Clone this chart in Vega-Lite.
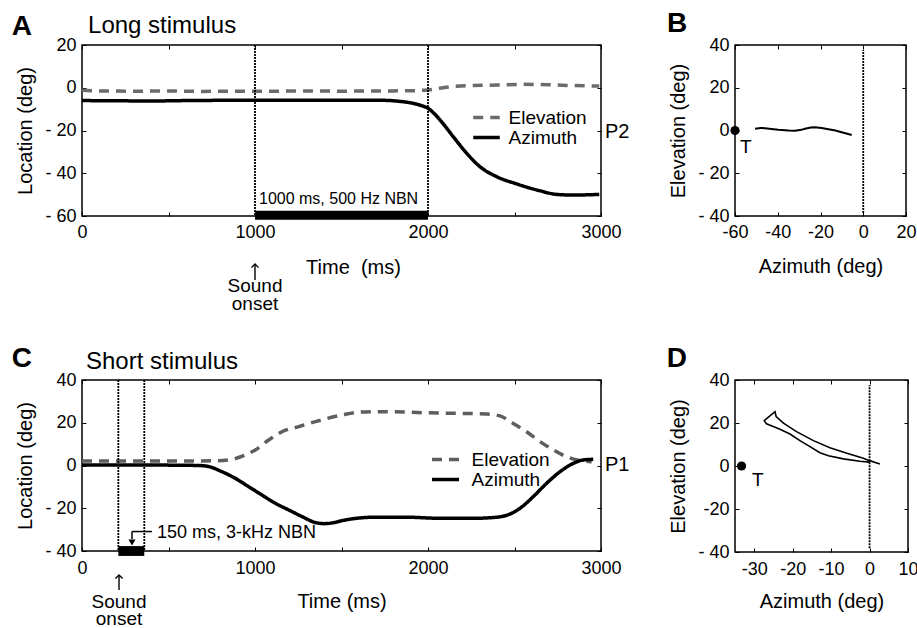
{
 "$schema": "https://vega.github.io/schema/vega-lite/v6.json",
 "autosize": {"type": "none"},
 "padding": {"left": 82, "top": 45, "right": 835, "bottom": 583},
 "background": "white",
 "columns": 2,
 "spacing": {"row": 164, "column": 134},
 "bounds": "flush",
 "resolve": {"scale": {"x": "independent", "y": "independent", "color": "independent", "strokeDash": "independent"}, "axis": {"x": "independent", "y": "independent"}},
 "datasets": {
  "A": [
   {"s": "Elevation", "t": 0, "v": -1.2}, {"s": "Elevation", "t": 100, "v": -1.5}, {"s": "Elevation", "t": 300, "v": -1.6}, {"s": "Elevation", "t": 500, "v": -1.5}, {"s": "Elevation", "t": 700, "v": -1.7}, {"s": "Elevation", "t": 900, "v": -1.6}, {"s": "Elevation", "t": 1100, "v": -1.6}, {"s": "Elevation", "t": 1300, "v": -1.5}, {"s": "Elevation", "t": 1500, "v": -1.6}, {"s": "Elevation", "t": 1700, "v": -1.5}, {"s": "Elevation", "t": 1900, "v": -1.4}, {"s": "Elevation", "t": 2000, "v": -1.0}, {"s": "Elevation", "t": 2070, "v": -0.2}, {"s": "Elevation", "t": 2150, "v": 0.6}, {"s": "Elevation", "t": 2250, "v": 1.0}, {"s": "Elevation", "t": 2400, "v": 1.3}, {"s": "Elevation", "t": 2550, "v": 1.6}, {"s": "Elevation", "t": 2700, "v": 1.4}, {"s": "Elevation", "t": 2850, "v": 1.0}, {"s": "Elevation", "t": 2990, "v": 0.8},
   {"s": "Azimuth", "t": 0, "v": -6.0}, {"s": "Azimuth", "t": 200, "v": -6.1}, {"s": "Azimuth", "t": 400, "v": -6.2}, {"s": "Azimuth", "t": 600, "v": -6.0}, {"s": "Azimuth", "t": 800, "v": -5.9}, {"s": "Azimuth", "t": 1000, "v": -5.9}, {"s": "Azimuth", "t": 1200, "v": -5.8}, {"s": "Azimuth", "t": 1400, "v": -5.8}, {"s": "Azimuth", "t": 1600, "v": -5.8}, {"s": "Azimuth", "t": 1750, "v": -5.9}, {"s": "Azimuth", "t": 1840, "v": -6.4}, {"s": "Azimuth", "t": 1915, "v": -7.3}, {"s": "Azimuth", "t": 1960, "v": -8.3}, {"s": "Azimuth", "t": 2000, "v": -9.6}, {"s": "Azimuth", "t": 2035, "v": -12.0}, {"s": "Azimuth", "t": 2070, "v": -15.1}, {"s": "Azimuth", "t": 2146, "v": -22.9}, {"s": "Azimuth", "t": 2224, "v": -30.7}, {"s": "Azimuth", "t": 2300, "v": -36.9}, {"s": "Azimuth", "t": 2397, "v": -41.6}, {"s": "Azimuth", "t": 2513, "v": -45.0}, {"s": "Azimuth", "t": 2647, "v": -48.2}, {"s": "Azimuth", "t": 2744, "v": -49.9}, {"s": "Azimuth", "t": 2840, "v": -50.2}, {"s": "Azimuth", "t": 2990, "v": -49.9}
  ],
  "C": [
   {"s": "Elevation", "t": 0, "v": 2.1}, {"s": "Elevation", "t": 200, "v": 2.1}, {"s": "Elevation", "t": 400, "v": 2.1}, {"s": "Elevation", "t": 600, "v": 2.1}, {"s": "Elevation", "t": 770, "v": 2.2}, {"s": "Elevation", "t": 867, "v": 2.9}, {"s": "Elevation", "t": 944, "v": 4.9}, {"s": "Elevation", "t": 1002, "v": 7.3}, {"s": "Elevation", "t": 1079, "v": 11.9}, {"s": "Elevation", "t": 1156, "v": 15.8}, {"s": "Elevation", "t": 1253, "v": 18.2}, {"s": "Elevation", "t": 1349, "v": 20.5}, {"s": "Elevation", "t": 1503, "v": 23.6}, {"s": "Elevation", "t": 1607, "v": 25.0}, {"s": "Elevation", "t": 1700, "v": 25.2}, {"s": "Elevation", "t": 1780, "v": 25.2}, {"s": "Elevation", "t": 1973, "v": 24.7}, {"s": "Elevation", "t": 2165, "v": 24.4}, {"s": "Elevation", "t": 2339, "v": 24.1}, {"s": "Elevation", "t": 2416, "v": 23.2}, {"s": "Elevation", "t": 2493, "v": 19.7}, {"s": "Elevation", "t": 2570, "v": 15.8}, {"s": "Elevation", "t": 2647, "v": 11.2}, {"s": "Elevation", "t": 2724, "v": 7.3}, {"s": "Elevation", "t": 2801, "v": 4.1}, {"s": "Elevation", "t": 2878, "v": 2.3}, {"s": "Elevation", "t": 2946, "v": 1.8},
   {"s": "Azimuth", "t": 0, "v": 0.2}, {"s": "Azimuth", "t": 200, "v": 0.2}, {"s": "Azimuth", "t": 400, "v": 0.2}, {"s": "Azimuth", "t": 600, "v": 0.1}, {"s": "Azimuth", "t": 674, "v": 0.0}, {"s": "Azimuth", "t": 732, "v": -0.5}, {"s": "Azimuth", "t": 809, "v": -2.9}, {"s": "Azimuth", "t": 886, "v": -6.0}, {"s": "Azimuth", "t": 963, "v": -9.9}, {"s": "Azimuth", "t": 1040, "v": -13.8}, {"s": "Azimuth", "t": 1118, "v": -17.7}, {"s": "Azimuth", "t": 1195, "v": -20.8}, {"s": "Azimuth", "t": 1272, "v": -23.9}, {"s": "Azimuth", "t": 1349, "v": -26.7}, {"s": "Azimuth", "t": 1400, "v": -27.2}, {"s": "Azimuth", "t": 1450, "v": -26.8}, {"s": "Azimuth", "t": 1503, "v": -25.8}, {"s": "Azimuth", "t": 1587, "v": -24.7}, {"s": "Azimuth", "t": 1684, "v": -24.2}, {"s": "Azimuth", "t": 1876, "v": -24.2}, {"s": "Azimuth", "t": 2069, "v": -24.7}, {"s": "Azimuth", "t": 2262, "v": -24.7}, {"s": "Azimuth", "t": 2397, "v": -24.2}, {"s": "Azimuth", "t": 2474, "v": -22.7}, {"s": "Azimuth", "t": 2532, "v": -20.0}, {"s": "Azimuth", "t": 2608, "v": -14.6}, {"s": "Azimuth", "t": 2686, "v": -8.3}, {"s": "Azimuth", "t": 2763, "v": -2.9}, {"s": "Azimuth", "t": 2840, "v": 1.0}, {"s": "Azimuth", "t": 2898, "v": 2.6}, {"s": "Azimuth", "t": 2955, "v": 2.9}
  ],
  "B": [
   {"i": 1, "az": -50.6, "el": 0.8}, {"i": 2, "az": -48, "el": 1.2}, {"i": 3, "az": -46, "el": 1.1}, {"i": 4, "az": -43, "el": 0.7}, {"i": 5, "az": -39.7, "el": 0.3}, {"i": 6, "az": -35, "el": 0.0}, {"i": 7, "az": -31.9, "el": -0.1}, {"i": 8, "az": -29, "el": 0.3}, {"i": 9, "az": -27.3, "el": 0.8}, {"i": 10, "az": -24.5, "el": 1.4}, {"i": 11, "az": -22.6, "el": 1.5}, {"i": 12, "az": -19.5, "el": 1.2}, {"i": 13, "az": -16.3, "el": 0.6}, {"i": 14, "az": -13, "el": 0.0}, {"i": 15, "az": -10.1, "el": -0.8}, {"i": 16, "az": -7.5, "el": -1.5}, {"i": 17, "az": -5.4, "el": -2.1}
  ],
  "D": [
   {"i": 1, "az": 0.0, "el": 1.8}, {"i": 2, "az": -2.5, "el": 2.2}, {"i": 3, "az": -6.8, "el": 3.3}, {"i": 4, "az": -10.7, "el": 4.8}, {"i": 5, "az": -12.9, "el": 6.2}, {"i": 6, "az": -15.5, "el": 9.0}, {"i": 7, "az": -18.1, "el": 11.8}, {"i": 8, "az": -20.7, "el": 14.9}, {"i": 9, "az": -23.3, "el": 17.1}, {"i": 10, "az": -26.8, "el": 19.6}, {"i": 11, "az": -27.4, "el": 21.1}, {"i": 12, "az": -24.6, "el": 25.3}, {"i": 13, "az": -24.3, "el": 23.0}, {"i": 14, "az": -22.4, "el": 19.9}, {"i": 15, "az": -19.0, "el": 16.0}, {"i": 16, "az": -14.6, "el": 11.8}, {"i": 17, "az": -10.3, "el": 8.5}, {"i": 18, "az": -5.9, "el": 5.9}, {"i": 19, "az": -1.6, "el": 3.6}, {"i": 20, "az": 0.0, "el": 2.5}, {"i": 21, "az": 2.7, "el": 0.9}
  ]
 },
 "concat": [
  {
   "width": 519, "height": 171,
   "resolve": {"axis": {"x": "independent", "y": "independent"}},
   "layer": [
    {
     "data": {"name": "A"},
     "mark": {"type": "line", "strokeWidth": 3.5, "interpolate": "monotone"},
     "encoding": {
      "x": {"field": "t", "type": "quantitative", "scale": {"domain": [0, 3000], "nice": false, "zero": false},
            "axis": {"orient": "bottom", "values": [0, 500, 1000, 1500, 2000, 2500, 3000], "labelExpr": "datum.value % 1000 === 0 ? '' + datum.value : ''", "labelPadding": 11, "title": "Time\u00a0 (ms)", "titleX": 271, "titleY": 57, "titleBaseline": "alphabetic"}},
      "y": {"field": "v", "type": "quantitative", "scale": {"domain": [-60, 20], "nice": false, "zero": false},
            "axis": {"orient": "left", "values": [20, 0, -20, -40, -60], "labelExpr": "datum.value < 0 ? '- ' + abs(datum.value) : '' + datum.value", "labelPadding": 10, "title": "Location (deg)", "titleX": -51, "titleY": 85.5, "titleBaseline": "alphabetic"}},
      "color": {"field": "s", "type": "nominal", "scale": {"domain": ["Elevation", "Azimuth"], "range": ["#6b6b6b", "#000000"]},
                "legend": {"orient": "none", "legendX": 395, "legendY": 63, "title": null, "symbolType": "M -2.65 0 L 2.65 0", "symbolSize": 100, "symbolStrokeWidth": 3.5, "labelFontSize": 19, "labelOffset": 12.5, "rowPadding": 0, "padding": 0}},
      "strokeDash": {"field": "s", "type": "nominal", "scale": {"domain": ["Elevation", "Azimuth"], "range": [[10, 7], [1, 0]]},
                "legend": {"orient": "none", "legendX": 395, "legendY": 63, "title": null, "symbolType": "M -2.65 0 L 2.65 0", "symbolSize": 100, "symbolStrokeWidth": 3.5, "labelFontSize": 19, "labelOffset": 12.5, "rowPadding": 0, "padding": 0}}
     }
    },
    {
     "data": {"name": "A"},
     "mark": {"type": "point", "opacity": 0},
     "encoding": {
      "x": {"field": "t", "type": "quantitative", "scale": {"domain": [0, 3000], "nice": false, "zero": false}, "axis": {"orient": "top", "values": [0, 500, 1000, 1500, 2000, 2500, 3000], "labels": false, "title": null}},
      "y": {"field": "v", "type": "quantitative", "scale": {"domain": [-60, 20], "nice": false, "zero": false}, "axis": {"orient": "right", "values": [20, 0, -20, -40, -60], "labels": false, "title": null}}
     }
    },
    {
     "data": {"values": [{"t": 1000}, {"t": 2000}]},
     "mark": {"type": "rule", "color": "#000", "strokeWidth": 1.8, "strokeDash": [2, 1]},
     "encoding": {"x": {"field": "t", "type": "quantitative", "scale": {"domain": [0, 3000], "nice": false, "zero": false}, "axis": null}}
    },
    {
     "data": {"values": [{}]},
     "mark": {"type": "rect", "color": "#000"},
     "encoding": {
      "x": {"datum": 1000, "type": "quantitative", "scale": {"domain": [0, 3000], "nice": false, "zero": false}, "axis": null}, "x2": {"datum": 2000},
      "y": {"datum": -61.8, "type": "quantitative", "scale": {"domain": [-60, 20], "nice": false, "zero": false}, "axis": null}, "y2": {"datum": -57.6}
     }
    },
    {
     "data": {"values": [{}]},
     "mark": {"type": "text", "text": "1000 ms, 500 Hz NBN", "align": "left", "baseline": "middle", "fontSize": 16},
     "encoding": {
      "x": {"datum": 1023, "type": "quantitative", "scale": {"domain": [0, 3000], "nice": false, "zero": false}, "axis": null},
      "y": {"datum": -52, "type": "quantitative", "scale": {"domain": [-60, 20], "nice": false, "zero": false}, "axis": null}
     }
    },
    {
     "data": {"values": [{}]},
     "mark": {"type": "rule", "color": "#000", "strokeWidth": 1.4},
     "encoding": {
      "x": {"datum": 1000, "type": "quantitative", "scale": {"domain": [0, 3000], "nice": false, "zero": false}, "axis": null},
      "y": {"datum": -82.6, "type": "quantitative", "scale": {"domain": [-60, 20], "nice": false, "zero": false}, "axis": null}, "y2": {"datum": -89.9}
     }
    },
    {
     "data": {"values": [{}]},
     "mark": {"type": "point", "shape": "M -1 1 L 0 0 L 1 1", "filled": false, "color": "#000", "opacity": 1, "strokeWidth": 1.4, "size": 50},
     "encoding": {
      "x": {"datum": 1000, "type": "quantitative", "scale": {"domain": [0, 3000], "nice": false, "zero": false}, "axis": null},
      "y": {"datum": -82.5, "type": "quantitative", "scale": {"domain": [-60, 20], "nice": false, "zero": false}, "axis": null}
     }
    },
    {
     "data": {"values": [{}]},
     "mark": {"type": "text", "text": ["Sound", "onset"], "align": "center", "baseline": "alphabetic", "fontSize": 19, "lineHeight": 18},
     "encoding": {
      "x": {"datum": 1000, "type": "quantitative", "scale": {"domain": [0, 3000], "nice": false, "zero": false}, "axis": null},
      "y": {"datum": -95.5, "type": "quantitative", "scale": {"domain": [-60, 20], "nice": false, "zero": false}, "axis": null}
     }
    },
    {
     "data": {"values": [{}]},
     "mark": {"type": "text", "text": "P2", "align": "left", "baseline": "middle", "fontSize": 20},
     "encoding": {
      "x": {"datum": 3023, "type": "quantitative", "scale": {"domain": [0, 3000], "nice": false, "zero": false}, "axis": null},
      "y": {"datum": -20.7, "type": "quantitative", "scale": {"domain": [-60, 20], "nice": false, "zero": false}, "axis": null}
     }
    },
    {
     "data": {"values": [{}]},
     "mark": {"type": "text", "text": "A", "align": "center", "baseline": "alphabetic", "fontSize": 28, "fontWeight": "bold"},
     "encoding": {
      "x": {"datum": -347, "type": "quantitative", "scale": {"domain": [0, 3000], "nice": false, "zero": false}, "axis": null},
      "y": {"datum": 24.7, "type": "quantitative", "scale": {"domain": [-60, 20], "nice": false, "zero": false}, "axis": null}
     }
    },
    {
     "data": {"values": [{}]},
     "mark": {"type": "text", "text": "Long stimulus", "align": "left", "baseline": "alphabetic", "fontSize": 24},
     "encoding": {
      "x": {"datum": 35, "type": "quantitative", "scale": {"domain": [0, 3000], "nice": false, "zero": false}, "axis": null},
      "y": {"datum": 25.6, "type": "quantitative", "scale": {"domain": [-60, 20], "nice": false, "zero": false}, "axis": null}
     }
    }
   ]
  },
  {
   "width": 171, "height": 171,
   "resolve": {"axis": {"x": "independent", "y": "independent"}},
   "layer": [
    {
     "data": {"name": "B"},
     "mark": {"type": "line", "color": "#000", "strokeWidth": 2},
     "encoding": {
      "x": {"field": "az", "type": "quantitative", "scale": {"domain": [-60, 20], "nice": false, "zero": false},
            "axis": {"orient": "bottom", "values": [-60, -40, -20, 0, 20], "labelExpr": "datum.value < 0 ? '-' + abs(datum.value) : '' + datum.value", "labelPadding": 11, "title": "Azimuth (deg)", "titleX": 85.5, "titleY": 56, "titleBaseline": "alphabetic"}},
      "y": {"field": "el", "type": "quantitative", "scale": {"domain": [-40, 40], "nice": false, "zero": false},
            "axis": {"orient": "left", "values": [40, 20, 0, -20, -40], "labelExpr": "datum.value < 0 ? '- ' + abs(datum.value) : '' + datum.value", "labelPadding": 10, "title": "Elevation (deg)", "titleX": -51, "titleY": 85.5, "titleBaseline": "alphabetic"}},
      "order": {"field": "i", "type": "quantitative"}
     }
    },
    {
     "data": {"name": "B"},
     "mark": {"type": "point", "opacity": 0},
     "encoding": {
      "x": {"field": "az", "type": "quantitative", "scale": {"domain": [-60, 20], "nice": false, "zero": false}, "axis": {"orient": "top", "values": [-60, -40, -20, 0, 20], "labels": false, "title": null}},
      "y": {"field": "el", "type": "quantitative", "scale": {"domain": [-40, 40], "nice": false, "zero": false}, "axis": {"orient": "right", "values": [40, 20, 0, -20, -40], "labels": false, "title": null}}
     }
    },
    {
     "data": {"values": [{}]},
     "mark": {"type": "rule", "color": "#000", "strokeWidth": 1.8, "strokeDash": [2, 1]},
     "encoding": {
      "x": {"datum": 0, "type": "quantitative", "scale": {"domain": [-60, 20], "nice": false, "zero": false}, "axis": null},
      "y": {"datum": -38.6, "type": "quantitative", "scale": {"domain": [-40, 40], "nice": false, "zero": false}, "axis": null}, "y2": {"datum": 37.7}
     }
    },
    {
     "data": {"values": [{}]},
     "mark": {"type": "point", "filled": true, "color": "#000", "opacity": 1, "size": 85},
     "encoding": {
      "x": {"datum": -60, "type": "quantitative", "scale": {"domain": [-60, 20], "nice": false, "zero": false}, "axis": null},
      "y": {"datum": 0, "type": "quantitative", "scale": {"domain": [-40, 40], "nice": false, "zero": false}, "axis": null}
     }
    },
    {
     "data": {"values": [{}]},
     "mark": {"type": "text", "text": "T", "align": "center", "baseline": "middle", "fontSize": 19},
     "encoding": {
      "x": {"datum": -54.9, "type": "quantitative", "scale": {"domain": [-60, 20], "nice": false, "zero": false}, "axis": null},
      "y": {"datum": -7.7, "type": "quantitative", "scale": {"domain": [-40, 40], "nice": false, "zero": false}, "axis": null}
     }
    },
    {
     "data": {"values": [{}]},
     "mark": {"type": "text", "text": "B", "align": "center", "baseline": "alphabetic", "fontSize": 28, "fontWeight": "bold"},
     "encoding": {
      "x": {"datum": -87.1, "type": "quantitative", "scale": {"domain": [-60, 20], "nice": false, "zero": false}, "axis": null},
      "y": {"datum": 46.1, "type": "quantitative", "scale": {"domain": [-40, 40], "nice": false, "zero": false}, "axis": null}
     }
    }
   ]
  },
  {
   "width": 519, "height": 171,
   "resolve": {"axis": {"x": "independent", "y": "independent"}},
   "layer": [
    {
     "data": {"name": "C"},
     "mark": {"type": "line", "strokeWidth": 3.5, "interpolate": "monotone"},
     "encoding": {
      "x": {"field": "t", "type": "quantitative", "scale": {"domain": [0, 3000], "nice": false, "zero": false},
            "axis": {"orient": "bottom", "values": [0, 500, 1000, 1500, 2000, 2500, 3000], "labelExpr": "datum.value % 1000 === 0 ? '' + datum.value : ''", "labelPadding": 12, "title": "Time (ms)", "titleX": 259.5, "titleY": 56, "titleBaseline": "alphabetic"}},
      "y": {"field": "v", "type": "quantitative", "scale": {"domain": [-40, 40], "nice": false, "zero": false},
            "axis": {"orient": "left", "values": [40, 20, 0, -20, -40], "labelExpr": "datum.value < 0 ? '- ' + abs(datum.value) : '' + datum.value", "labelPadding": 10, "title": "Location (deg)", "titleX": -51, "titleY": 85.5, "titleBaseline": "alphabetic"}},
      "color": {"field": "s", "type": "nominal", "scale": {"domain": ["Elevation", "Azimuth"], "range": ["#5e5e5e", "#000000"]},
                "legend": {"orient": "none", "legendX": 354, "legendY": 70, "title": null, "symbolType": "M -2.7 0 L 2.7 0", "symbolSize": 100, "symbolStrokeWidth": 3.5, "labelFontSize": 19, "labelOffset": 16.5, "rowPadding": 0, "padding": 0}},
      "strokeDash": {"field": "s", "type": "nominal", "scale": {"domain": ["Elevation", "Azimuth"], "range": [[10, 7], [1, 0]]},
                "legend": {"orient": "none", "legendX": 354, "legendY": 70, "title": null, "symbolType": "M -2.7 0 L 2.7 0", "symbolSize": 100, "symbolStrokeWidth": 3.5, "labelFontSize": 19, "labelOffset": 16.5, "rowPadding": 0, "padding": 0}}
     }
    },
    {
     "data": {"name": "C"},
     "mark": {"type": "point", "opacity": 0},
     "encoding": {
      "x": {"field": "t", "type": "quantitative", "scale": {"domain": [0, 3000], "nice": false, "zero": false}, "axis": {"orient": "top", "values": [0, 500, 1000, 1500, 2000, 2500, 3000], "labels": false, "title": null}},
      "y": {"field": "v", "type": "quantitative", "scale": {"domain": [-40, 40], "nice": false, "zero": false}, "axis": {"orient": "right", "values": [40, 20, 0, -20, -40], "labels": false, "title": null}}
     }
    },
    {
     "data": {"values": [{"t": 210}, {"t": 360}]},
     "mark": {"type": "rule", "color": "#000", "strokeWidth": 1.8, "strokeDash": [2, 1]},
     "encoding": {"x": {"field": "t", "type": "quantitative", "scale": {"domain": [0, 3000], "nice": false, "zero": false}, "axis": null}}
    },
    {
     "data": {"values": [{}]},
     "mark": {"type": "rect", "color": "#000"},
     "encoding": {
      "x": {"datum": 210, "type": "quantitative", "scale": {"domain": [0, 3000], "nice": false, "zero": false}, "axis": null}, "x2": {"datum": 360},
      "y": {"datum": -42.3, "type": "quantitative", "scale": {"domain": [-40, 40], "nice": false, "zero": false}, "axis": null}, "y2": {"datum": -37.7}
     }
    },
    {
     "data": {"values": [{}]},
     "mark": {"type": "rule", "color": "#000", "strokeWidth": 1.5},
     "encoding": {
      "x": {"datum": 289, "type": "quantitative", "scale": {"domain": [0, 3000], "nice": false, "zero": false}, "axis": null}, "x2": {"datum": 405},
      "y": {"datum": -30.9, "type": "quantitative", "scale": {"domain": [-40, 40], "nice": false, "zero": false}, "axis": null}
     }
    },
    {
     "data": {"values": [{}]},
     "mark": {"type": "rule", "color": "#000", "strokeWidth": 1.5},
     "encoding": {
      "x": {"datum": 289, "type": "quantitative", "scale": {"domain": [0, 3000], "nice": false, "zero": false}, "axis": null},
      "y": {"datum": -30.9, "type": "quantitative", "scale": {"domain": [-40, 40], "nice": false, "zero": false}, "axis": null}, "y2": {"datum": -34.5}
     }
    },
    {
     "data": {"values": [{}]},
     "mark": {"type": "point", "shape": "triangle-down", "filled": true, "color": "#000", "opacity": 1, "size": 50},
     "encoding": {
      "x": {"datum": 289, "type": "quantitative", "scale": {"domain": [0, 3000], "nice": false, "zero": false}, "axis": null},
      "y": {"datum": -36, "type": "quantitative", "scale": {"domain": [-40, 40], "nice": false, "zero": false}, "axis": null}
     }
    },
    {
     "data": {"values": [{}]},
     "mark": {"type": "text", "text": "150 ms, 3-kHz NBN", "align": "left", "baseline": "middle", "fontSize": 18},
     "encoding": {
      "x": {"datum": 433, "type": "quantitative", "scale": {"domain": [0, 3000], "nice": false, "zero": false}, "axis": null},
      "y": {"datum": -31.6, "type": "quantitative", "scale": {"domain": [-40, 40], "nice": false, "zero": false}, "axis": null}
     }
    },
    {
     "data": {"values": [{}]},
     "mark": {"type": "rule", "color": "#000", "strokeWidth": 1.4},
     "encoding": {
      "x": {"datum": 214, "type": "quantitative", "scale": {"domain": [0, 3000], "nice": false, "zero": false}, "axis": null},
      "y": {"datum": -51.3, "type": "quantitative", "scale": {"domain": [-40, 40], "nice": false, "zero": false}, "axis": null}, "y2": {"datum": -58.2}
     }
    },
    {
     "data": {"values": [{}]},
     "mark": {"type": "point", "shape": "M -1 1 L 0 0 L 1 1", "filled": false, "color": "#000", "opacity": 1, "strokeWidth": 1.4, "size": 50},
     "encoding": {
      "x": {"datum": 214, "type": "quantitative", "scale": {"domain": [0, 3000], "nice": false, "zero": false}, "axis": null},
      "y": {"datum": -51.2, "type": "quantitative", "scale": {"domain": [-40, 40], "nice": false, "zero": false}, "axis": null}
     }
    },
    {
     "data": {"values": [{}]},
     "mark": {"type": "text", "text": ["Sound", "onset"], "align": "center", "baseline": "alphabetic", "fontSize": 19, "lineHeight": 17},
     "encoding": {
      "x": {"datum": 214, "type": "quantitative", "scale": {"domain": [0, 3000], "nice": false, "zero": false}, "axis": null},
      "y": {"datum": -66.7, "type": "quantitative", "scale": {"domain": [-40, 40], "nice": false, "zero": false}, "axis": null}
     }
    },
    {
     "data": {"values": [{}]},
     "mark": {"type": "text", "text": "P1", "align": "left", "baseline": "middle", "fontSize": 20},
     "encoding": {
      "x": {"datum": 3023, "type": "quantitative", "scale": {"domain": [0, 3000], "nice": false, "zero": false}, "axis": null},
      "y": {"datum": 0.2, "type": "quantitative", "scale": {"domain": [-40, 40], "nice": false, "zero": false}, "axis": null}
     }
    },
    {
     "data": {"values": [{}]},
     "mark": {"type": "text", "text": "C", "align": "center", "baseline": "alphabetic", "fontSize": 28, "fontWeight": "bold"},
     "encoding": {
      "x": {"datum": -347, "type": "quantitative", "scale": {"domain": [0, 3000], "nice": false, "zero": false}, "axis": null},
      "y": {"datum": 46.1, "type": "quantitative", "scale": {"domain": [-40, 40], "nice": false, "zero": false}, "axis": null}
     }
    },
    {
     "data": {"values": [{}]},
     "mark": {"type": "text", "text": "Short stimulus", "align": "left", "baseline": "alphabetic", "fontSize": 24},
     "encoding": {
      "x": {"datum": 23, "type": "quantitative", "scale": {"domain": [0, 3000], "nice": false, "zero": false}, "axis": null},
      "y": {"datum": 45.1, "type": "quantitative", "scale": {"domain": [-40, 40], "nice": false, "zero": false}, "axis": null}
     }
    }
   ]
  },
  {
   "width": 173, "height": 172,
   "resolve": {"axis": {"x": "independent", "y": "independent"}},
   "layer": [
    {
     "data": {"name": "D"},
     "mark": {"type": "line", "color": "#000", "strokeWidth": 1.6},
     "encoding": {
      "x": {"field": "az", "type": "quantitative", "scale": {"domain": [-35, 10], "nice": false, "zero": false},
            "axis": {"orient": "bottom", "values": [-30, -20, -10, 0, 10], "labelExpr": "datum.value < 0 ? '-' + abs(datum.value) : '' + datum.value", "labelPadding": 12, "title": "Azimuth (deg)", "titleX": 86.5, "titleY": 55, "titleBaseline": "alphabetic"}},
      "y": {"field": "el", "type": "quantitative", "scale": {"domain": [-40, 40], "nice": false, "zero": false},
            "axis": {"orient": "left", "values": [40, 20, 0, -20, -40], "labelExpr": "datum.value == -40 ? '- 40' : datum.value < 0 ? '-' + abs(datum.value) : '' + datum.value", "labelPadding": 10, "title": "Elevation (deg)", "titleX": -51, "titleY": 86, "titleBaseline": "alphabetic"}},
      "order": {"field": "i", "type": "quantitative"}
     }
    },
    {
     "data": {"name": "D"},
     "mark": {"type": "point", "opacity": 0},
     "encoding": {
      "x": {"field": "az", "type": "quantitative", "scale": {"domain": [-35, 10], "nice": false, "zero": false}, "axis": {"orient": "top", "values": [-30, -20, -10, 0, 10], "labels": false, "title": null}},
      "y": {"field": "el", "type": "quantitative", "scale": {"domain": [-40, 40], "nice": false, "zero": false}, "axis": {"orient": "right", "values": [40, 20, 0, -20, -40], "labels": false, "title": null}}
     }
    },
    {
     "data": {"values": [{}]},
     "mark": {"type": "rule", "color": "#000", "strokeWidth": 1.8, "strokeDash": [2, 1]},
     "encoding": {
      "x": {"datum": 0, "type": "quantitative", "scale": {"domain": [-35, 10], "nice": false, "zero": false}, "axis": null},
      "y": {"datum": -38.3, "type": "quantitative", "scale": {"domain": [-40, 40], "nice": false, "zero": false}, "axis": null}, "y2": {"datum": 37.7}
     }
    },
    {
     "data": {"values": [{}]},
     "mark": {"type": "point", "filled": true, "color": "#000", "opacity": 1, "size": 85},
     "encoding": {
      "x": {"datum": -33.3, "type": "quantitative", "scale": {"domain": [-35, 10], "nice": false, "zero": false}, "axis": null},
      "y": {"datum": 0, "type": "quantitative", "scale": {"domain": [-40, 40], "nice": false, "zero": false}, "axis": null}
     }
    },
    {
     "data": {"values": [{}]},
     "mark": {"type": "text", "text": "T", "align": "center", "baseline": "middle", "fontSize": 19},
     "encoding": {
      "x": {"datum": -29.1, "type": "quantitative", "scale": {"domain": [-35, 10], "nice": false, "zero": false}, "axis": null},
      "y": {"datum": -6.3, "type": "quantitative", "scale": {"domain": [-40, 40], "nice": false, "zero": false}, "axis": null}
     }
    },
    {
     "data": {"values": [{}]},
     "mark": {"type": "text", "text": "D", "align": "center", "baseline": "alphabetic", "fontSize": 28, "fontWeight": "bold"},
     "encoding": {
      "x": {"datum": -50.1, "type": "quantitative", "scale": {"domain": [-35, 10], "nice": false, "zero": false}, "axis": null},
      "y": {"datum": 46.0, "type": "quantitative", "scale": {"domain": [-40, 40], "nice": false, "zero": false}, "axis": null}
     }
    }
   ]
  }
 ],
 "config": {
  "font": "Liberation Sans",
  "view": {"stroke": "#000", "strokeWidth": 1.5},
  "axis": {"grid": false, "domain": false, "ticks": true, "tickColor": "#000", "tickSize": -4, "tickWidth": 1, "labelColor": "#000", "titleColor": "#000", "labelFontSize": 18, "titleFontSize": 20, "titleFontWeight": "normal", "labelFlush": false, "labelOverlap": false, "labelFont": "Liberation Sans", "titleFont": "Liberation Sans"},
  "legend": {"labelColor": "#000", "labelFont": "Liberation Sans"},
  "text": {"color": "#000", "font": "Liberation Sans"}
 }
}
